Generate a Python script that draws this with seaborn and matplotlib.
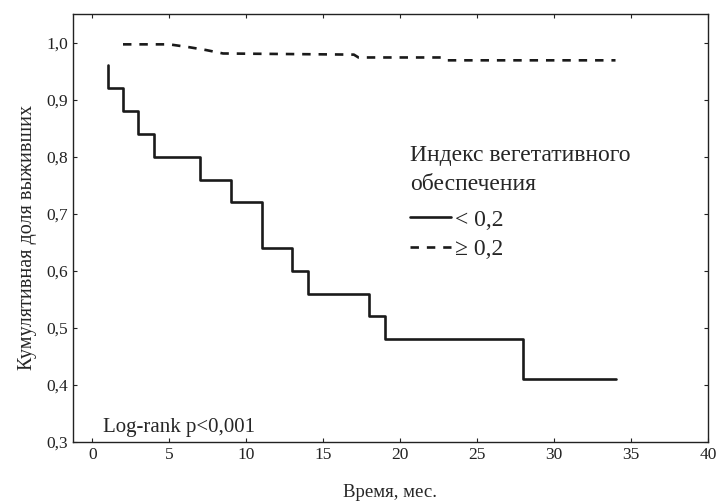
import pandas as pd
import seaborn as sns
from matplotlib import pyplot as plt
from matplotlib.ticker import FuncFormatter

# survival curve, index < 0.2 (steps)
low_time = [1, 1, 2, 3, 4, 7, 9, 11, 13, 14, 18, 19, 28, 34]
low_surv = [0.96, 0.92, 0.88, 0.84, 0.80, 0.76, 0.72, 0.64, 0.60, 0.56, 0.52, 0.48, 0.41, 0.41]
# survival curve, index >= 0.2
high_time = [2, 5, 6.3, 7.4, 8.5, 17, 17.3, 22.7, 23, 34]
high_surv = [0.997, 0.997, 0.992, 0.987, 0.981, 0.979, 0.974, 0.974, 0.969, 0.969]

labels = ["< 0,2", "\u2265 0,2"]
x_ticks = [0, 5, 10, 15, 20, 25, 30, 35, 40]
y_ticks = [0.3, 0.4, 0.5, 0.6, 0.7, 0.8, 0.9, 1.0]

sns.set_style("ticks")
plt.rcParams['font.family'] = ['Liberation Serif', 'DejaVu Serif']

df_low = pd.DataFrame({"time": low_time, "surv": low_surv})
df_high = pd.DataFrame({"time": high_time, "surv": high_surv})

fig = plt.figure(figsize=(7.19, 5.04), dpi=100)
ax = fig.add_axes([0.1015, 0.123, 0.883, 0.849])

sns.lineplot(data=df_low, x="time", y="surv", estimator=None, sort=False,
             drawstyle="steps-post", color="#1a1a1a", linewidth=1.9, ax=ax, label=labels[0])
sns.lineplot(data=df_high, x="time", y="surv", estimator=None, sort=False,
             color="#1a1a1a", linewidth=1.9, linestyle=(0, (3.2, 3.0)), ax=ax, label=labels[1])

ax.set_xlim(-1.25, 40)
ax.set_ylim(0.3, 1.05)
ax.set_xticks(x_ticks)
ax.set_yticks(y_ticks)
ax.yaxis.set_major_formatter(FuncFormatter(lambda v, p: f"{v:.1f}".replace(".", ",")))
ax.tick_params(direction="in", length=3, labelsize=12.5, top=True, right=True, colors="#222222")
for s in ax.spines.values():
    s.set_linewidth(1.0)
    s.set_color("#222222")

ax.set_xlabel("Время, мес.", fontsize=13.5, labelpad=15)
ax.set_ylabel("Кумулятивная доля выживших", fontsize=14.5)
ax.yaxis.set_label_coords(-0.057, 0.479)

leg = ax.legend(title="Индекс вегетативного\nобеспечения", loc="upper left",
                bbox_to_anchor=(0.498, 0.743), frameon=False, fontsize=17,
                title_fontsize=17, handlelength=1.7, handletextpad=0.2,
                labelspacing=0.33, alignment="left")
leg.get_title().set_linespacing(1.45)
# a bit more room between the title and the entries
leg._legend_box.sep = 10.5

ax.text(0.047, 0.033, "Log-rank p<0,001", transform=ax.transAxes, fontsize=15,
        ha="left", va="center")

fig.savefig("out.png", dpi=100)
